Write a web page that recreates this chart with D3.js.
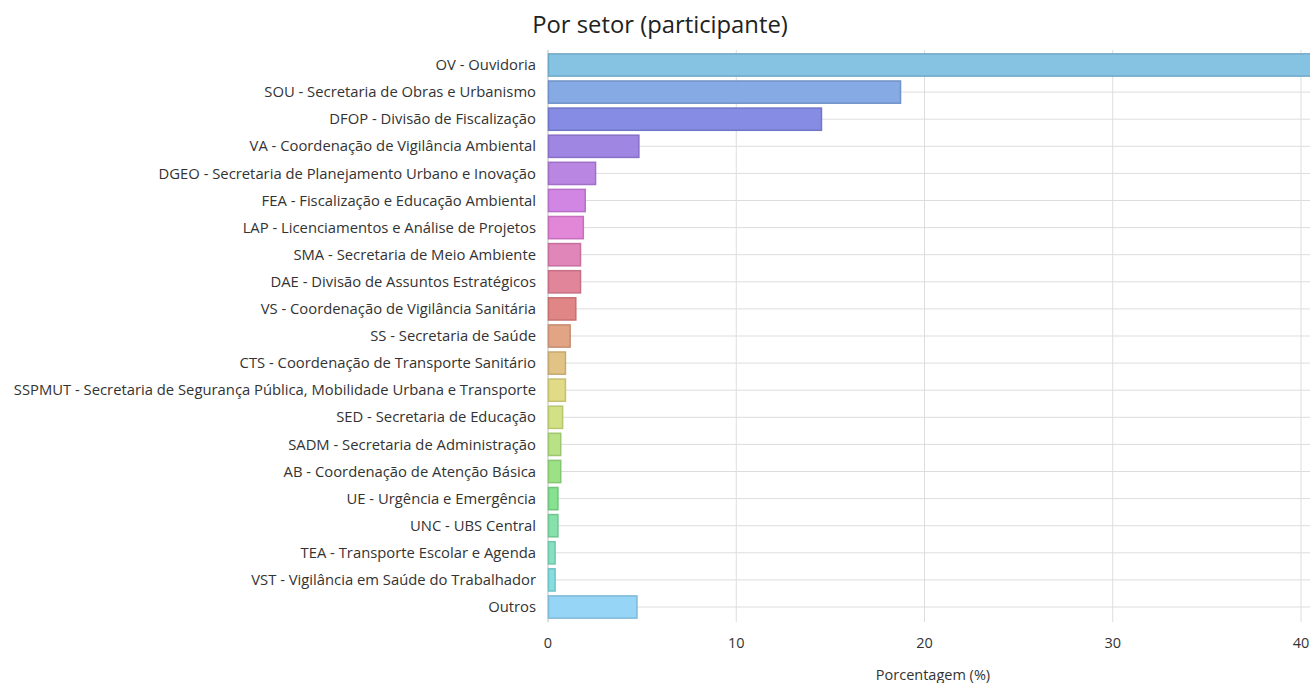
<!DOCTYPE html>
<html>
<head>
<meta charset="utf-8">
<script src="https://cdn.jsdelivr.net/npm/d3@7"></script>
<style>
	body { margin: 0; background: #fff; overflow: hidden; }
	svg { font-family: "Open Sans", sans-serif; display: block; }
</style>
</head>
<body>
<div id="d3"></div>
<script>
// sector labels, top to bottom
const setores = [
	"OV - Ouvidoria",
	"SOU - Secretaria de Obras e Urbanismo",
	"DFOP - Divisão de Fiscalização",
	"VA - Coordenação de Vigilância Ambiental",
	"DGEO - Secretaria de Planejamento Urbano e Inovação",
	"FEA - Fiscalização e Educação Ambiental",
	"LAP - Licenciamentos e Análise de Projetos",
	"SMA - Secretaria de Meio Ambiente",
	"DAE - Divisão de Assuntos Estratégicos",
	"VS - Coordenação de Vigilância Sanitária",
	"SS - Secretaria de Saúde",
	"CTS - Coordenação de Transporte Sanitário",
	"SSPMUT - Secretaria de Segurança Pública, Mobilidade Urbana e Transporte",
	"SED - Secretaria de Educação",
	"SADM - Secretaria de Administração",
	"AB - Coordenação de Atenção Básica",
	"UE - Urgência e Emergência",
	"UNC - UBS Central",
	"TEA - Transporte Escolar e Agenda",
	"VST - Vigilância em Saúde do Trabalhador",
	"Outros"
];

// percentage per sector
const porcentagens = [42.0, 18.7, 14.5, 4.8, 2.5, 1.95, 1.85, 1.7, 1.7, 1.45, 1.15, 0.9, 0.9, 0.75, 0.65, 0.65, 0.5, 0.5, 0.35, 0.35, 4.7];

const xTicks = [0, 10, 20, 30, 40];

const cores = ["#7fc0e2", "#7fa5e2", "#7f86e2", "#9a7fe2", "#b57fe0", "#cf7fe2", "#e07fd6",
	"#df7fb4", "#df7f95", "#df8080", "#dfa080", "#dfc080", "#dfd880", "#d0df80",
	"#b5df80", "#98df80", "#80df8a", "#80dfa5", "#80dfc0", "#80dcdf", "#90d3f5"];

const width = 1310, height = 683;

const svg = d3.select("#d3").append("svg")
	.attr("width", width)
	.attr("height", height);

const left = 548;

let x = d3.scaleLinear()
	.domain([0, 40])
	.range([left, 1301]);

let y = d3.scaleBand()
	.domain(setores)
	.range([49, 623])
	.padding(0.18);

let color = d3.scaleOrdinal()
	.domain(setores)
	.range(cores);

let chart = svg.append("g");

// vertical grid
chart.append("g")
	.selectAll("line")
	.data(xTicks)
	.enter()
	.append("line")
	.attr("x1", d => x(d))
	.attr("x2", d => x(d))
	.attr("y1", 50)
	.attr("y2", 622)
	.attr("stroke", d => d === 0 ? "#bbb" : "#ddd")
	.attr("stroke-width", 1);

// horizontal grid at category centers
chart.append("g")
	.selectAll("line")
	.data(setores)
	.enter()
	.append("line")
	.attr("x1", left)
	.attr("x2", width)
	.attr("y1", d => y(d) + y.bandwidth() / 2)
	.attr("y2", d => y(d) + y.bandwidth() / 2)
	.attr("stroke", "#ddd")
	.attr("stroke-width", 1);

// bars
chart.append("g")
	.selectAll("rect")
	.data(setores)
	.enter()
	.append("rect")
	.attr("x", x(0) + 0.5)
	.attr("y", d => y(d))
	.attr("width", (d, i) => x(porcentagens[i]) - x(0))
	.attr("height", y.bandwidth())
	.attr("fill", d => color(d))
	.attr("fill-opacity", 0.95)
	.attr("stroke", d => d3.color(color(d)).darker(0.35))
	.attr("stroke-width", 1.5);

// category labels
chart.append("g")
	.selectAll("text")
	.data(setores)
	.enter()
	.append("text")
	.attr("x", 536)
	.attr("y", d => y(d) + y.bandwidth() / 2)
	.attr("dy", "0.35em")
	.attr("text-anchor", "end")
	.style("font-size", "14.8px")
	.style("fill", "#333")
	.text(d => d);

// x tick labels
chart.append("g")
	.selectAll("text")
	.data(xTicks)
	.enter()
	.append("text")
	.attr("x", d => x(d))
	.attr("y", 648)
	.attr("text-anchor", "middle")
	.style("font-size", "14.5px")
	.style("fill", "#333")
	.text(d => d);

// axis title
svg.append("text")
	.attr("x", 933)
	.attr("y", 680)
	.attr("text-anchor", "middle")
	.style("font-size", "14.5px")
	.style("fill", "#333")
	.text("Porcentagem (%)");

// chart title
svg.append("text")
	.attr("x", 660)
	.attr("y", 33)
	.attr("text-anchor", "middle")
	.style("font-size", "23.8px")
	.style("fill", "#222")
	.text("Por setor (participante)");
</script>
</body>
</html>
